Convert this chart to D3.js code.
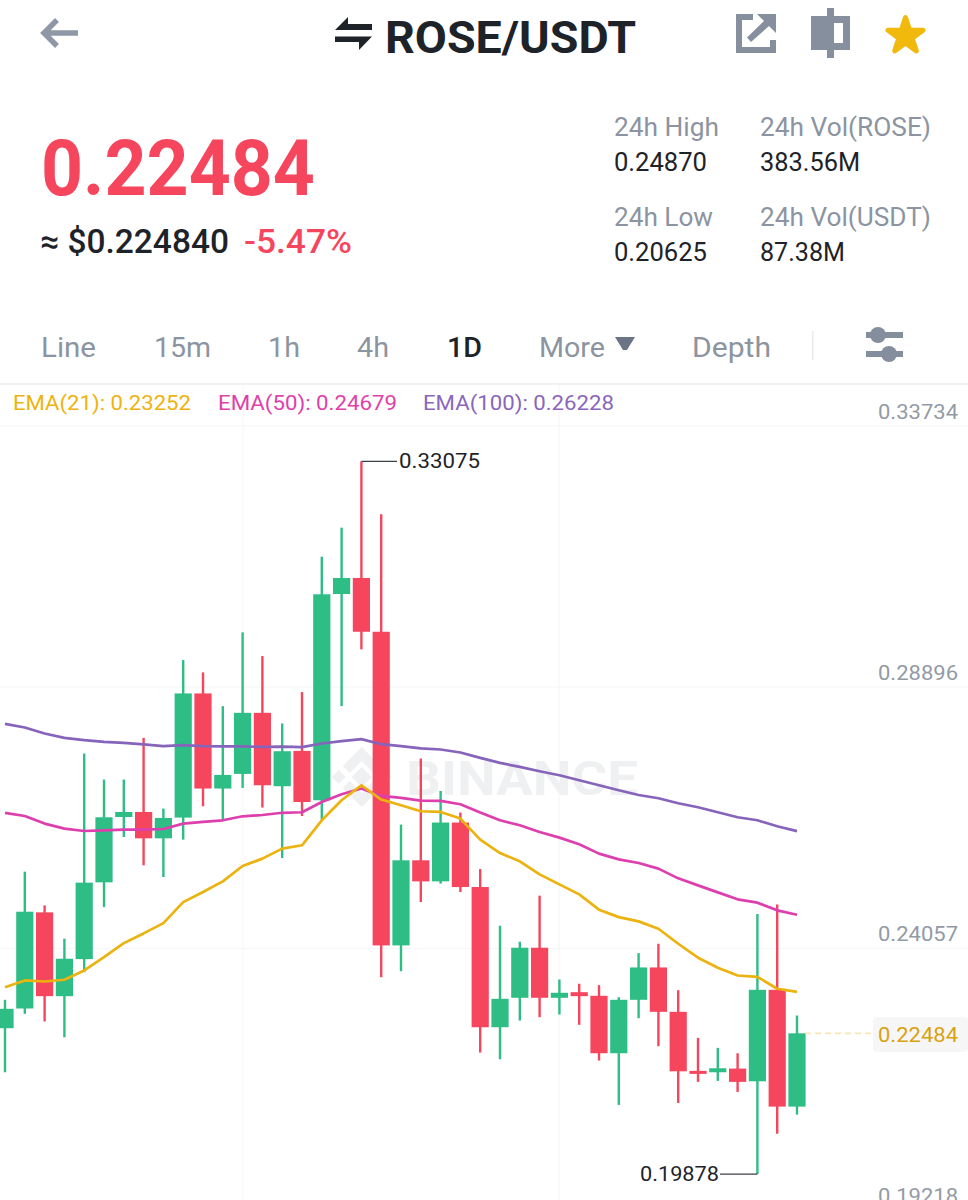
<!DOCTYPE html>
<html><head><meta charset="utf-8">
<script src="https://cdnjs.cloudflare.com/ajax/libs/d3/7.8.5/d3.min.js"></script>
<style>html,body{margin:0;padding:0;background:#fff}svg{display:block}text{font-family:Roboto,sans-serif}</style>
</head><body><svg id="c" width="968" height="1200" viewBox="0 0 968 1200"></svg>
<script>
const opens=[.22579,.22944,.24724,.23172,.23858,.25280,.26490,.26583,.26095,.26479,.28778,.27017,.27288,.28419,.27060,.27714,.26800,.30619,.30916,.29920,.24112,.25688,.25298,.26387,.25193,.22597,.23142,.24069,.23142,.23246,.23179,.22115,.23105,.23704,.22882,.21789,.21763,.21831,.21596,.23290,.21127];
const highs=[.23105,.25478,.24853,.24236,.27666,.27184,.27184,.27955,.26646,.29396,.29168,.28543,.29909,.29470,.28222,.28802,.31311,.31848,.33075,.32097,.26349,.27573,.26972,.26572,.25526,.24477,.24180,.25033,.23481,.23402,.23376,.23153,.23969,.24143,.23283,.22400,.22215,.22115,.24692,.24870,.22814];
const lows=[.21763,.22845,.22703,.22412,.23617,.24822,.26120,.25595,.25378,.26071,.26689,.26442,.27028,.26665,.25730,.26509,.26442,.28543,.29594,.23524,.23635,.24914,.25256,.25100,.22128,.22004,.22721,.22782,.22832,.22641,.21980,.21158,.22764,.22245,.21195,.21585,.21603,.21399,.19878,.20625,.20978];
const closes=[.22938,.24736,.23172,.23865,.25274,.26485,.26583,.26095,.26472,.28778,.27017,.27269,.28419,.27078,.27708,.26768,.30614,.30916,.29920,.24112,.25688,.25298,.26387,.25193,.22597,.23123,.24069,.23142,.23235,.23172,.22115,.23105,.23704,.22882,.21781,.21733,.21837,.21585,.23290,.21127,.22484];
const ema21=[.23339,.23463,.23444,.23476,.23648,.23895,.24154,.24334,.24525,.24914,.25100,.25298,.25582,.25719,.25905,.25966,.26429,.26800,.27078,.26813,.26707,.26596,.26583,.26461,.26071,.25823,.25669,.25428,.25243,.25057,.24774,.24636,.24557,.24421,.24143,.23884,.23698,.23555,.23531,.23309,.23252];
const ema50=[.26565,.26509,.26368,.26275,.26231,.26244,.26257,.26257,.26268,.26368,.26398,.26429,.26503,.26527,.26568,.26578,.26768,.26911,.27017,.26880,.26843,.26794,.26787,.26726,.26572,.26429,.26336,.26212,.26108,.25984,.25812,.25706,.25638,.25534,.25354,.25224,.25094,.24965,.24903,.24761,.24679];
const ema100=[.28215,.28148,.28037,.27955,.27912,.27881,.27862,.27833,.27801,.27820,.27801,.27796,.27796,.27788,.27792,.27783,.27851,.27894,.27931,.27838,.27801,.27759,.27740,.27684,.27584,.27492,.27417,.27338,.27263,.27171,.27078,.26985,.26898,.26837,.26744,.26670,.26578,.26485,.26429,.26318,.26228];
const priceTicks=[.33734,.28896,.24057,.19218];
const lastPrice=.22484, maxPrice=.33075, minPrice=.19878;
const tabs=["Line","15m","1h","4h","1D","More","Depth"];
const legendNames=["EMA(21): 0.23252","EMA(50): 0.24679","EMA(100): 0.26228"];

const GREEN="#2ebd85",RED="#f6465d",GOLD="#ecb20e",PINK="#dd3fae",PURPLE="#8664bb",GREY="#8c94a1",DARK="#1e2329";
const svg=d3.select("#c");
const x=d3.scaleLinear().domain([0,opens.length-1]).range([5,797]);
const y=d3.scaleLinear().domain([.19218,.33734]).range([1209.7,425.8]);

function label(t,x0,base,size,w,fill,weight){
  return svg.append("text").attr("x",x0).attr("y",base).attr("font-size",size).attr("fill",fill)
    .attr("font-weight",weight||400).attr("textLength",w).attr("lengthAdjust","spacingAndGlyphs").text(t);
}

// ----- header
svg.append("path").attr("d","M78 33H44M57 20L44 33L57 46").attr("fill","none").attr("stroke","#8f98a6").attr("stroke-width",5.5);
svg.append("path").attr("d","M335 30L348 17V24H372V30ZM335 36.5H372L359 50V42H335Z").attr("fill",DARK);
label("ROSE/USDT",385,53,44,251,DARK,700);
svg.append("path").attr("d","M736 14H753V20H742V47H770V40H776V53H736Z").attr("fill","#868f9d");
svg.append("path").attr("d","M757 14H776V33L769 26L751 42L747 37.5L764 21Z").attr("fill","#868f9d");
svg.append("path").attr("d","M827 8H834V16H850V50H834V58H827V50H811V16H827ZM834 23V43H843V23Z").attr("fill","#868f9d").attr("fill-rule","evenodd");
svg.append("path").attr("d",d3.symbol(d3.symbolStar,380)()).attr("transform","translate(905.5,36)").attr("fill","#f0b90b").attr("stroke","#f0b90b").attr("stroke-width",5).attr("stroke-linejoin","round");

label("0.22484",41,195,77,274,RED,700);
label("≈ $0.224840",40,253,34,189,DARK,500);
label("-5.47%",244,253,34,108,RED,500);
label("24h High",614,136,26,105,GREY);
label("0.24870",614,171,25,93,DARK);
label("24h Vol(ROSE)",760,136,26,171,GREY);
label("383.56M",760,171,25,100,DARK);
label("24h Low",614,226,26,99,GREY);
label("0.20625",614,261,25,93,DARK);
label("24h Vol(USDT)",760,226,26,171,GREY);
label("87.38M",760,261,25,85,DARK);

// ----- tabs
const tabX=[41,154,268,357,447,539,692], tabW=[55,57,32,32,35,66,79];
tabs.forEach((t,i)=>label(t,tabX[i],357,28,tabW[i],t==="1D"?DARK:GREY,t==="1D"?500:400));
svg.append("path").attr("d","M615 337H635L627 350H623Z").attr("fill","#6a7485");
svg.append("rect").attr("x",812).attr("y",331).attr("width",1.6).attr("height",29).attr("fill","#e9ebee");
svg.append("rect").attr("x",866).attr("y",332).attr("width",37).attr("height",6).attr("fill","#858e9c");
svg.append("rect").attr("x",866).attr("y",351).attr("width",37).attr("height",6).attr("fill","#858e9c");
svg.append("circle").attr("cx",878).attr("cy",335).attr("r",8).attr("fill","#858e9c");
svg.append("circle").attr("cx",889).attr("cy",354).attr("r",8).attr("fill","#858e9c");
svg.append("rect").attr("x",0).attr("y",383).attr("width",968).attr("height",2).attr("fill","#f1f2f4");

// ----- grid
[243,559].forEach(v=>svg.append("line").attr("x1",v).attr("x2",v).attr("y1",385).attr("y2",1200).attr("stroke","#f6f6f7").attr("stroke-width",1));
svg.append("g").selectAll("line").data(priceTicks).join("line").attr("x1",0).attr("x2",968)
  .attr("y1",d=>y(d)).attr("y2",d=>y(d)).attr("stroke","#f4f5f6").attr("stroke-width",1);

// ----- watermark
const wm=svg.append("g").attr("transform","translate(361.7,777)").attr("fill","#eff0f1");
wm.append("path").attr("d","M0 -30L19 -11L12 -4L0 -16L-12 -4L-19 -11Z");
wm.append("path").attr("d","M0 30L19 11L12 4L0 16L-12 4L-19 11Z");
wm.append("path").attr("d","M0 -10L10 0L0 10L-10 0Z");
wm.append("path").attr("d","M-23 -7L-16 0L-23 7L-30 0Z");
wm.append("path").attr("d","M23 -7L30 0L23 7L16 0Z");
label("BINANCE",406,795,49,232,"#eff0f1",700);

// ----- candles
const idx=d3.range(opens.length);
const col=i=>closes[i]>=opens[i]?GREEN:RED;
svg.append("g").selectAll("line").data(idx).join("line")
  .attr("x1",i=>x(i)).attr("x2",i=>x(i)).attr("y1",i=>y(highs[i])).attr("y2",i=>y(lows[i]))
  .attr("stroke",col).attr("stroke-width",2.4);
svg.append("g").selectAll("rect").data(idx).join("rect")
  .attr("x",i=>x(i)-8.6).attr("width",17.2)
  .attr("y",i=>y(Math.max(opens[i],closes[i])))
  .attr("height",i=>Math.max(1.5,Math.abs(y(opens[i])-y(closes[i]))))
  .attr("fill",col);

// ----- EMAs
const ln=d3.line().x((d,i)=>x(i)).y(d=>y(d));
[[ema100,PURPLE],[ema50,PINK],[ema21,GOLD]].forEach(([s,c])=>
  svg.append("path").attr("d",ln(s)).attr("fill","none").attr("stroke",c).attr("stroke-width",2.7).attr("stroke-linejoin","round"));

// ----- legend
[[13,178,"#eeb30e"],[218,179,"#e040aa"],[423,191,"#8a66bd"]].forEach(([lx,w,c],i)=>label(legendNames[i],lx,410,21,w,c));

// ----- price axis
const axis=d3.axisLeft(y).tickValues(priceTicks).tickSize(0).tickPadding(0).tickFormat(d=>d.toFixed(5));
const ag=svg.append("g").attr("transform","translate(958,0)").call(axis);
ag.select(".domain").remove();
ag.selectAll("text").attr("font-size",21).attr("font-family","Roboto").attr("fill","#929aa5").attr("dy","-0.36em")
  .attr("textLength",80).attr("lengthAdjust","spacingAndGlyphs");

// ----- last price
svg.append("line").attr("x1",805).attr("x2",873).attr("y1",y(lastPrice)).attr("y2",y(lastPrice))
  .attr("stroke","#f5e6b4").attr("stroke-width",1.6).attr("stroke-dasharray","6 4");
svg.append("rect").attr("x",873).attr("y",1017).attr("width",95).attr("height",35).attr("rx",4).attr("fill","#f6f6f7");
label(lastPrice.toFixed(5),878,1042,21,80,"#d9a20f");

// ----- high / low markers
svg.append("path").attr("d",`M${x(18)} ${y(maxPrice)}H397`).attr("stroke","#3c4149").attr("stroke-width",1.3).attr("fill","none");
label(maxPrice.toFixed(5),399,468,21,81,DARK);
svg.append("path").attr("d",`M${x(38)} ${y(minPrice)}H720`).attr("stroke","#3c4149").attr("stroke-width",1.3).attr("fill","none");
label(minPrice.toFixed(5),640,1181,21,79,DARK);
</script></body></html>
